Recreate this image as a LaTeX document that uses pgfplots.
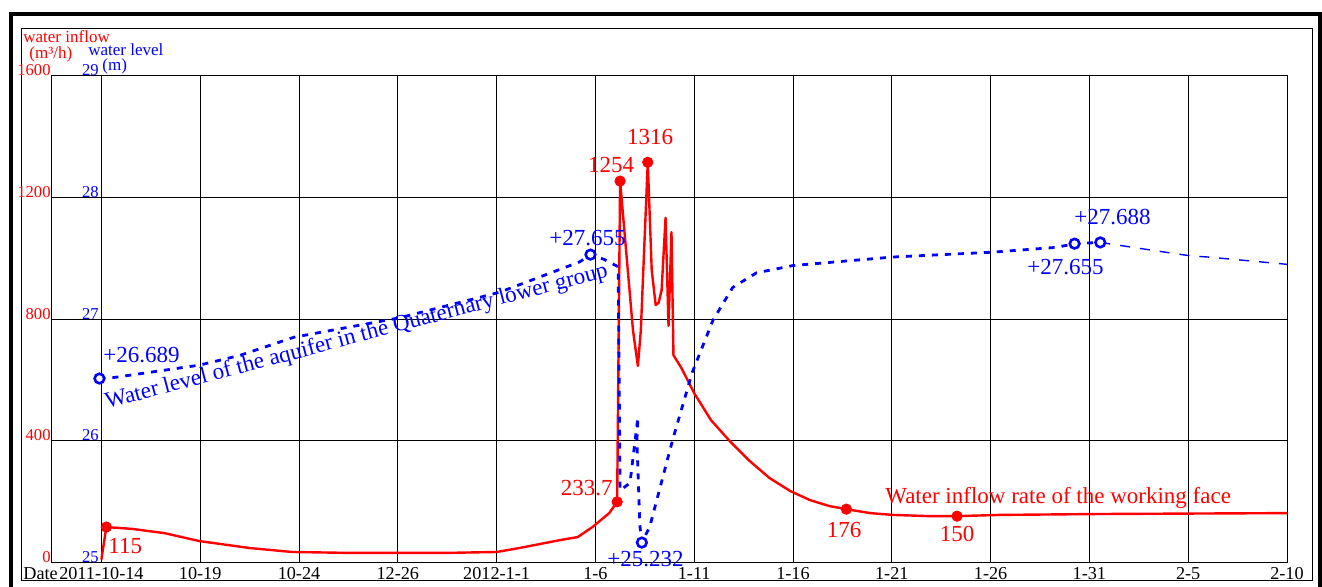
\documentclass[border=0pt]{standalone}
\usepackage{fontspec}
\setmainfont{Liberation Serif}
\usepackage{pgfplots}
\pgfplotsset{compat=1.18}
\begin{document}
\begin{tikzpicture}
\begin{scope}[x=0.5pt,y=-0.5pt]
\useasboundingbox (0,0) rectangle (1322,587);
% frames
\draw[line width=2pt] (11,600) -- (11,14.5) -- (1320,14.5) -- (1320,600);
\draw[line width=0.5pt] (21.5,28.5) rectangle (1312,580.5);
\end{scope}

\begin{axis}[
  scale only axis, width=617.5pt, height=243pt,
  at={(26pt,-281pt)}, anchor=south west,
  xmin=-0.5, xmax=12, ymin=0, ymax=1600,
  xtick={0,...,12},
  xticklabels={2011-10-14,10-19,10-24,12-26,2012-1-1,1-6,1-11,1-16,1-21,1-26,1-31,2-5,2-10},
  ytick={0,400,...,1600},
  grid=major, major grid style={black, line width=0.5pt},
  axis line style={black, line width=0.5pt},
  major tick length=0pt,
  xticklabel style={anchor=base, yshift=-8.5pt, inner sep=0pt, font=\fontsize{9.1}{10}\selectfont},
  yticklabel style={anchor=base east, inner sep=0.5pt, text=red, font=\fontsize{8.3}{9}\selectfont},
  /pgf/number format/assume math mode=true, /pgf/number format/1000 sep={},
  clip=false,
]
\addplot[red, line width=1.2pt, line join=round] coordinates {
(0.0,8) (0.05,115) (0.31,109) (0.64,95) (0.99,69) (1.5,46) (1.93,33) (2.5,30) (3.5,30)
(4.0,33) (4.23,46) (4.64,72) (4.82,82) (4.97,115) (5.14,161) (5.22,198) (5.25,1254) (5.38,764)
(5.43,645) (5.46,764) (5.53,1316) (5.57,961) (5.61,846) (5.64,853) (5.67,895) (5.71,1133)
(5.74,777) (5.77,1086) (5.79,681) (5.87,639) (6.00,556) (6.17,467) (6.36,398) (6.56,333)
(6.76,277) (6.97,234) (7.17,204) (7.37,184) (7.54,174) (7.78,161) (8.01,155) (8.38,151)
(8.66,151) (9.09,155) (10.1,158) (12,161)
};
\addplot[only marks, mark=*, mark size=2.6pt, red] coordinates {
(0.05,115) (5.22,198) (5.25,1254) (5.53,1316) (7.54,174) (8.66,151)
};
\end{axis}

\begin{axis}[
  scale only axis, width=617.5pt, height=243pt,
  at={(26pt,-281pt)}, anchor=south west,
  xmin=-0.5, xmax=12, ymin=25, ymax=29,
  xtick=\empty, ytick={25,...,29},
  axis line style={draw=none},
  major tick length=0pt,
  yticklabel style={anchor=base east, inner sep=0.5pt, xshift=24pt, text=blue, font=\fontsize{8.3}{9}\selectfont},
  /pgf/number format/assume math mode=true,
  clip=false,
]
\addplot[blue, line width=1.4pt, dash pattern=on 3pt off 3.5pt] coordinates {
(-0.02,26.51) (0.14,26.52) (0.99,26.62) (1.4,26.70) (1.95,26.85) (3.02,27.01) (4.03,27.22)
(4.84,27.47) (4.95,27.53) (5.09,27.49) (5.23,27.43) (5.25,25.59) (5.35,25.65) (5.43,26.19)
(5.42,26.0) (5.45,25.3) (5.47,25.16) (5.55,25.29) (5.78,26.00) (5.98,26.56) (6.19,26.99)
(6.39,27.26) (6.63,27.38) (7.0,27.44) (8.01,27.51) (9.02,27.55) (9.67,27.59) (9.85,27.62)
(10.11,27.63)
};
\addplot[blue, line width=0.7pt, dash pattern=on 5pt off 5pt] coordinates {
(10.11,27.63) (10.6,27.57) (11.02,27.52) (11.2,27.51) (12,27.45)
};
\addplot[only marks, mark=*, mark size=2.4pt, mark options={draw=blue, fill=white, line width=1.3pt}] coordinates {
(-0.02,26.51) (4.95,27.53) (5.47,25.16) (9.85,27.62) (10.11,27.63)
};
\end{axis}

\begin{scope}[x=0.5pt,y=-0.5pt, every node/.style={inner sep=0pt}]
\begin{scope}[font=\fontsize{8.5}{9}\selectfont]
\node[anchor=base west, text=red] at (23,43) {water inflow};
\node[anchor=base west, text=red] at (29,59) {(m³/h)};
\node[anchor=base west, text=blue] at (88,56) {water level};
\node[anchor=base west, text=blue] at (102,71) {(m)};
\end{scope}
\node[anchor=base west, font=\fontsize{9.1}{10}\selectfont] at (23,579) {Date};
\begin{scope}[font=\fontsize{11.5}{12}\selectfont]
\node[anchor=base, text=red] at (650,145) {1316};
\node[anchor=base, text=red] at (611,173) {1254};
\node[anchor=base east, text=red] at (613,495) {233.7};
\node[anchor=base west, text=red] at (108,553) {115};
\node[anchor=base, text=red] at (844,537) {176};
\node[anchor=base, text=red] at (957,541) {150};
\node[anchor=base west, text=red] at (885,503) {Water inflow rate of the working face};
\node[anchor=base west, text=blue] at (103,363) {+26.689};
\node[anchor=base west, text=blue] at (549,246) {+27.655};
\node[anchor=base west, text=blue] at (607,566) {+25.232};
\node[anchor=base west, text=blue] at (1074,225) {+27.688};
\node[anchor=base west, text=blue] at (1027,275) {+27.655};
\node[anchor=base west, text=blue, rotate=14.8] at (107,409) {Water level of the aquifer in the Quaternary lower group};
\end{scope}
\end{scope}
\end{tikzpicture}
\end{document}
